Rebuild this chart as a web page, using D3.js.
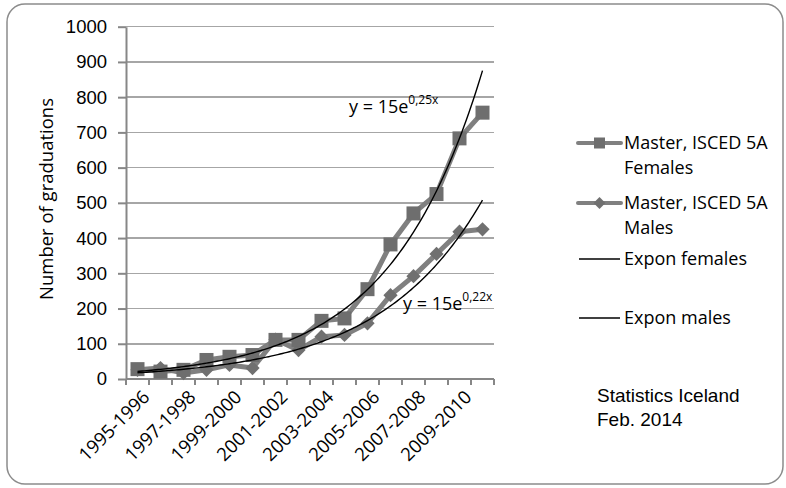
<html>
  <head>
    <meta charset="utf-8" />
    <script src="https://d3js.org/d3.v7.min.js"></script>
  </head>
  <style>
    body { margin: 0; background: #ffffff; }
    svg { font-family: "Open Sans", sans-serif; }
    .grid line { stroke: #a6a6a6; stroke-width: 1.5; shape-rendering: crispEdges; }
    .axis path, .axis line { stroke: #878787; stroke-width: 2; }
    .axis text { font-size: 18.5px; fill: #000; }
  </style>
  <body>
    <svg width="786" height="488"></svg>
    <script>
      // data
      const years = ["1995-1996", "1996-1997", "1997-1998", "1998-1999", "1999-2000", "2000-2001",
        "2001-2002", "2002-2003", "2003-2004", "2004-2005", "2005-2006", "2006-2007",
        "2007-2008", "2008-2009", "2009-2010", "2010-2011"];
      const females = [28, 21, 26, 54, 63, 68, 111, 111, 165, 172, 255, 382, 470, 525, 683, 756];
      const males = [26, 31, 17, 26, 40, 31, 112, 82, 120, 125, 158, 238, 292, 355, 418, 425];
      const yTicks = [0, 100, 200, 300, 400, 500, 600, 700, 800, 900, 1000];
      const shownYears = ["1995-1996", "1997-1998", "1999-2000", "2001-2002", "2003-2004",
        "2005-2006", "2007-2008", "2009-2010"];
      const legendNames = ["Master, ISCED 5A|Females", "Master, ISCED 5A|Males", "Expon females", "Expon males"];
      const eqFemales = ["y = 15e", "0,25x"];
      const eqMales = ["y = 15e", "0,22x"];

      const svg = d3.select("svg");

      // rounded frame
      svg.append("rect")
        .attr("x", 7).attr("y", 4).attr("width", 776).attr("height", 480)
        .attr("rx", 18)
        .attr("fill", "none").attr("stroke", "#8c8c8c").attr("stroke-width", 1.5);

      const pLeft = 126, pRight = 494, pTop = 26.7, pBottom = 379;

      const x = d3.scaleBand().domain(years).range([pLeft, pRight]);
      const y = d3.scaleLinear().domain([0, 1000]).range([pBottom, pTop]);
      // numeric position (1..16) for trend curves
      const xNum = d3.scaleLinear().domain([1, years.length])
        .range([x(years[0]) + x.bandwidth() / 2, x(years[years.length - 1]) + x.bandwidth() / 2]);

      // gridlines
      svg.append("g").attr("class", "grid")
        .selectAll("line").data(yTicks.slice(1)).enter().append("line")
        .attr("x1", pLeft).attr("x2", pRight)
        .attr("y1", d => y(d)).attr("y2", d => y(d));

      // y axis
      const yAxis = d3.axisLeft(y).tickValues(yTicks).tickFormat(d3.format("d"))
        .tickSize(8).tickPadding(11).tickSizeOuter(0);
      svg.append("g").attr("class", "axis").attr("transform", `translate(${pLeft},0)`).call(yAxis);

      // x axis, ticks on band edges
      const xg = svg.append("g").attr("class", "axis");
      xg.append("line").attr("x1", pLeft).attr("x2", pRight).attr("y1", pBottom).attr("y2", pBottom);
      xg.selectAll("line.tk").data(d3.range(years.length + 1)).enter().append("line")
        .attr("class", "tk")
        .attr("x1", i => pLeft + i * x.step()).attr("x2", i => pLeft + i * x.step())
        .attr("y1", pBottom).attr("y2", pBottom + 6);
      xg.selectAll("text").data(shownYears).enter().append("text")
        .attr("transform", d => `translate(${x(d) + x.bandwidth() / 2 + 4},${pBottom + 10}) rotate(-45)`)
        .attr("text-anchor", "end")
        .attr("dy", "0.7em")
        .text(d => d);

      // y title
      svg.append("text")
        .attr("transform", "translate(53,199) rotate(-90)")
        .attr("text-anchor", "middle")
        .style("font-size", "18.5px")
        .text("Number of graduations");

      const cx = (d, i) => x(years[i]) + x.bandwidth() / 2;
      const line = d3.line().x(cx).y(d => y(d));

      // series
      svg.append("path").datum(males).attr("d", line)
        .attr("fill", "none").attr("stroke", "#808080").attr("stroke-width", 5)
        .attr("stroke-linejoin", "round");
      svg.append("path").datum(females).attr("d", line)
        .attr("fill", "none").attr("stroke", "#808080").attr("stroke-width", 5)
        .attr("stroke-linejoin", "round");

      const diamond = d3.symbol().type(d3.symbolDiamond2).size(130);
      svg.selectAll("path.male").data(males).enter().append("path")
        .attr("class", "male")
        .attr("d", diamond)
        .attr("transform", (d, i) => `translate(${cx(d, i)},${y(d)})`)
        .attr("fill", "#707070");
      svg.selectAll("rect.female").data(females).enter().append("rect")
        .attr("class", "female")
        .attr("x", (d, i) => cx(d, i) - 7).attr("y", d => y(d) - 7)
        .attr("width", 14).attr("height", 14)
        .attr("fill", "#6e6e6e");

      // exponential trend (least squares on ln y, as the spreadsheet does)
      function expFit(vals) {
        const xs = vals.map((v, i) => i + 1);
        const ls = vals.map(v => Math.log(v));
        const mx = d3.mean(xs), ml = d3.mean(ls);
        const b = d3.sum(xs, (xv, i) => (xv - mx) * (ls[i] - ml)) / d3.sum(xs, xv => (xv - mx) * (xv - mx));
        return { a: Math.exp(ml - b * mx), b: b };
      }
      const steps = d3.range(1, years.length + 0.001, 0.1);
      [females, males].forEach(vals => {
        const f = expFit(vals);
        svg.append("path").datum(steps)
          .attr("d", d3.line().x(t => xNum(t)).y(t => y(f.a * Math.exp(f.b * t))))
          .attr("fill", "none").attr("stroke", "#000").attr("stroke-width", 1.4);
      });

      // equation labels
      function eq(txt, px, py) {
        const t = svg.append("text").attr("x", px).attr("y", py).style("font-size", "18px");
        t.append("tspan").text(txt[0]);
        t.append("tspan").attr("dy", -9).style("font-size", "12px").text(txt[1]);
      }
      eq(eqFemales, 349, 113);
      eq(eqMales, 403, 310);

      // legend
      const lg = svg.append("g").style("font-size", "18px");
      const rows = [143, 203, 259, 318];
      legendNames.forEach((name, i) => {
        const yy = rows[i];
        const parts = name.split("|");
        if (i < 2) {
          lg.append("line").attr("x1", 578).attr("x2", 621).attr("y1", yy).attr("y2", yy)
            .attr("stroke", "#808080").attr("stroke-width", 4).attr("stroke-linecap", "round");
          if (i === 0) {
            lg.append("rect").attr("x", 594).attr("y", yy - 5.5).attr("width", 11).attr("height", 11)
              .attr("fill", "#6e6e6e");
          } else {
            lg.append("path").attr("d", d3.symbol().type(d3.symbolDiamond2).size(90))
              .attr("transform", `translate(599.5,${yy})`).attr("fill", "#707070");
          }
        } else {
          lg.append("line").attr("x1", 579).attr("x2", 620).attr("y1", yy).attr("y2", yy)
            .attr("stroke", "#000").attr("stroke-width", 1.3);
        }
        parts.forEach((p, j) => {
          lg.append("text").attr("x", 624).attr("y", yy + 6 + j * 25).text(p);
        });
      });

      // source note
      const src = svg.append("g").style("font-family", "'Liberation Sans', Arial, sans-serif").style("font-size", "19px");
      src.append("text").attr("x", 597).attr("y", 402).text("Statistics Iceland");
      src.append("text").attr("x", 597).attr("y", 426).text("Feb. 2014");
    </script>
  </body>
</html>
